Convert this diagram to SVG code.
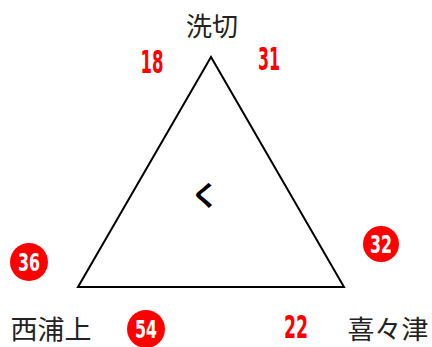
<svg xmlns="http://www.w3.org/2000/svg" width="432" height="347" viewBox="0 0 432 347">
<style>
.lbl{font-family:"Noto Sans CJK JP","Noto Sans CJK SC",sans-serif;font-size:26px;fill:#222}
.num{font-family:"Liberation Sans Narrow","DejaVu Sans Condensed","Liberation Sans",sans-serif;font-weight:bold;font-size:32px;fill:#f00;text-anchor:middle}
.cnum{font-family:"Liberation Sans Narrow","DejaVu Sans Condensed","Liberation Sans",sans-serif;font-weight:bold;font-size:25px;fill:#fff;text-anchor:middle}
.circ{fill:#f00}
</style>
<rect width="432" height="347" fill="#fff"/>
<g id="connectors">
<polygon points="211,57 78,287 344,287" fill="none" stroke="#000" stroke-width="2"/>
</g>
<g id="node-top"><text class="lbl" x="212" y="36" text-anchor="middle">洗切</text></g>
<g id="node-left"><text class="lbl" x="51" y="339" text-anchor="middle" textLength="81" lengthAdjust="spacingAndGlyphs">西浦上</text></g>
<g id="node-right"><text class="lbl" x="388" y="339" text-anchor="middle" textLength="81" lengthAdjust="spacingAndGlyphs">喜々津</text></g>
<g id="center"><text x="205" y="206" text-anchor="middle" font-family="Noto Sans CJK JP, sans-serif" font-weight="bold" font-size="28" fill="#000">く</text></g>
<g id="n18"><text class="num" x="152" y="73" textLength="23" lengthAdjust="spacingAndGlyphs">18</text></g>
<g id="n31"><text class="num" x="269" y="70" textLength="22" lengthAdjust="spacingAndGlyphs">31</text></g>
<g id="n22"><text class="num" x="296" y="338" textLength="24" lengthAdjust="spacingAndGlyphs">22</text></g>
<g id="n36"><circle class="circ" cx="29" cy="262" r="19"/><text class="cnum" x="29" y="271" textLength="22" lengthAdjust="spacingAndGlyphs">36</text></g>
<g id="n54"><circle class="circ" cx="146" cy="329" r="19"/><text class="cnum" x="146" y="338" textLength="22" lengthAdjust="spacingAndGlyphs">54</text></g>
<g id="n32"><circle class="circ" cx="381" cy="244" r="18"/><text class="cnum" x="381" y="253" textLength="22" lengthAdjust="spacingAndGlyphs">32</text></g>
</svg>
